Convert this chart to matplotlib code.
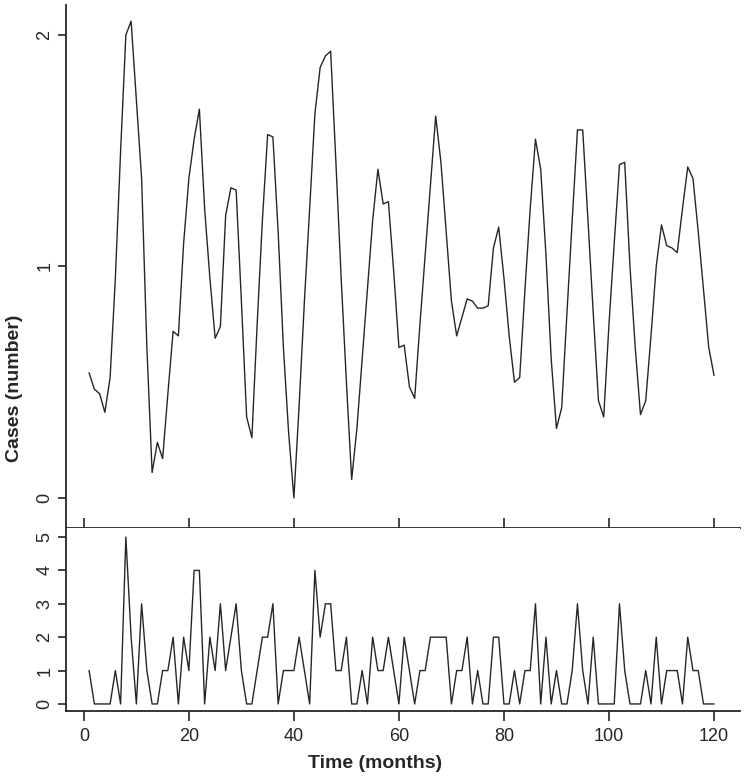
import numpy as np
import matplotlib.pyplot as plt

months = np.arange(1, 121)

# smoothed series (top panel)
smoothed = [
    0.54, 0.47, 0.45, 0.37, 0.52, 0.95, 1.50, 2.00, 2.06, 1.72,
    1.38, 0.65, 0.11, 0.24, 0.17, 0.45, 0.72, 0.70, 1.10, 1.38,
    1.55, 1.68, 1.25, 0.95, 0.69, 0.74, 1.22, 1.34, 1.33, 0.85,
    0.35, 0.26, 0.75, 1.20, 1.57, 1.56, 1.15, 0.65, 0.28, 0.00,
    0.40, 0.85, 1.25, 1.66, 1.86, 1.91, 1.93, 1.45, 0.95, 0.50,
    0.08, 0.30, 0.60, 0.90, 1.20, 1.42, 1.27, 1.28, 0.98, 0.65,
    0.66, 0.48, 0.43, 0.75, 1.05, 1.35, 1.65, 1.45, 1.15, 0.85,
    0.70, 0.78, 0.86, 0.85, 0.82, 0.82, 0.83, 1.08, 1.17, 0.95,
    0.70, 0.50, 0.52, 0.90, 1.25, 1.55, 1.42, 1.05, 0.60, 0.30,
    0.39, 0.80, 1.20, 1.59, 1.59, 1.20, 0.80, 0.42, 0.35, 0.75,
    1.10, 1.44, 1.45, 1.00, 0.65, 0.36, 0.42, 0.70, 1.00, 1.18,
    1.09, 1.08, 1.06, 1.25, 1.43, 1.38, 1.15, 0.90, 0.65, 0.53,
]

# observed monthly counts (bottom panel)
counts = [
    1, 0, 0, 0, 0, 1, 0, 5, 2, 0,
    3, 1, 0, 0, 1, 1, 2, 0, 2, 1,
    4, 4, 0, 2, 1, 3, 1, 2, 3, 1,
    0, 0, 1, 2, 2, 3, 0, 1, 1, 1,
    2, 1, 0, 4, 2, 3, 3, 1, 1, 2,
    0, 0, 1, 0, 2, 1, 1, 2, 1, 0,
    2, 1, 0, 1, 1, 2, 2, 2, 2, 0,
    1, 1, 2, 0, 1, 0, 0, 2, 2, 0,
    0, 1, 0, 1, 1, 3, 0, 2, 0, 1,
    0, 0, 1, 3, 1, 0, 2, 0, 0, 0,
    0, 3, 1, 0, 0, 0, 1, 0, 2, 0,
    1, 1, 1, 0, 2, 1, 1, 0, 0, 0,
]

x_ticks = [0, 20, 40, 60, 80, 100, 120]

plt.rcParams['font.family'] = ['Liberation Sans Narrow', 'Liberation Sans', 'DejaVu Sans']
ink = '#262626'

fig = plt.figure(figsize=(7.5, 7.76), dpi=100)
ax1 = fig.add_axes([0.088, 0.3196, 0.899, 0.674])
ax2 = fig.add_axes([0.088, 0.0838, 0.899, 0.2358])

ax1.plot(months, smoothed, color=ink, lw=1.0)
ax2.plot(months, counts, color=ink, lw=1.0)

for ax in (ax1, ax2):
    ax.set_xlim(-3.4, 125)
    ax.set_xticks(x_ticks)
    ax.spines['top'].set_visible(False)
    ax.spines['right'].set_visible(False)
    for s in ('left', 'bottom'):
        ax.spines[s].set_color(ink)
        ax.spines[s].set_linewidth(1.3)
    ax.tick_params(axis='y', direction='out', length=6, width=1.2, color=ink,
                   labelsize=13, labelcolor=ink, labelrotation=90, pad=3)
    for lab in ax.get_yticklabels():
        lab.set_va('center')

ax1.set_ylim(-0.13, 2.13)
ax1.set_yticks([0, 1, 2])
ax1.tick_params(axis='x', direction='in', length=7, width=1.2, color=ink,
                labelbottom=False)
for lab in ax1.get_yticklabels():
    lab.set_va('center')

ax2.set_ylim(-0.21, 5.27)
ax2.set_yticks([0, 1, 2, 3, 4, 5])
ax2.tick_params(axis='x', direction='out', length=7, width=1.2, color=ink,
                labelsize=13, labelcolor=ink, pad=5)
for lab in ax2.get_yticklabels():
    lab.set_va('center')

fig.text(0.02, 0.5, 'Cases (number)', rotation=90, ha='center', va='center',
         fontsize=14, fontweight='bold', color=ink)
fig.text(0.5, 0.016, 'Time (months)', ha='center', va='center',
         fontsize=14, fontweight='bold', color=ink)

fig.savefig('out.png', dpi=100)
